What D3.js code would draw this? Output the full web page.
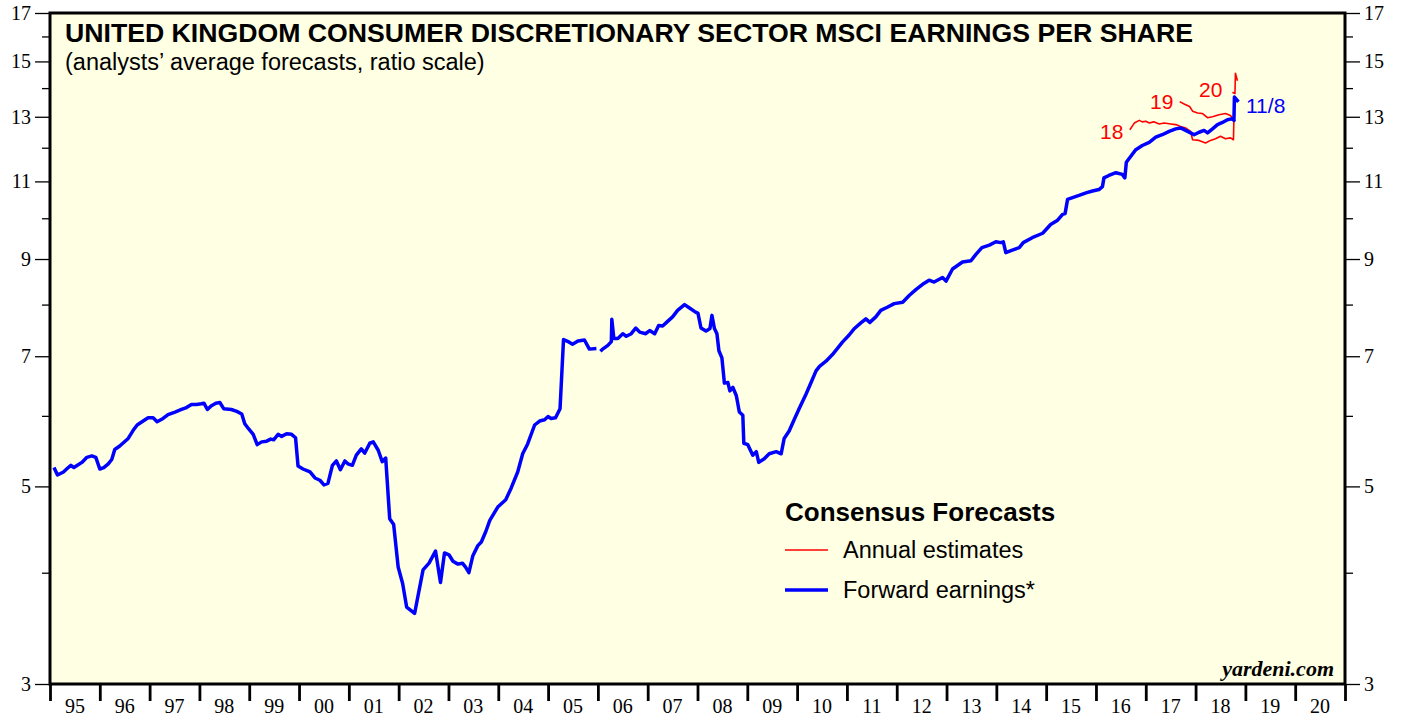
<!DOCTYPE html>
<html>
<head>
<meta charset="utf-8">
<script src="https://cdn.jsdelivr.net/npm/d3@7"></script>
<style>
  body { margin: 0; background: #fff; }
  svg { display: block; }
</style>
</head>
<body>
<svg id="chart" width="1405" height="717"></svg>
<script>
// forward earnings (decimal year, EPS), null = gap in series
const fwdDates = [1995.08,1995.15,1995.27,1995.35,1995.42,1995.48,1995.55,1995.64,1995.74,1995.84,1995.92,
  1996.00,1996.08,1996.17,1996.24,1996.30,1996.40,1996.57,1996.67,1996.75,1996.87,1996.97,
  1997.07,1997.15,1997.27,1997.37,1997.51,1997.64,1997.74,1997.84,1997.94,
  1998.04,1998.09,1998.16,1998.24,1998.33,1998.41,1998.49,1998.64,1998.75,1998.85,1998.91,1998.99,
  1999.08,1999.16,1999.25,1999.35,1999.43,1999.49,1999.58,1999.65,1999.75,1999.85,1999.93,1999.98,
  2000.08,2000.22,2000.32,2000.42,2000.50,2000.58,2000.67,2000.75,2000.83,2000.92,2000.98,
  2001.07,2001.15,2001.25,2001.32,2001.42,2001.49,2001.59,2001.67,2001.74,2001.82,2001.90,2001.99,
  2002.08,2002.16,2002.32,2002.49,2002.61,2002.74,2002.84,2002.92,
  2003.01,2003.09,2003.19,2003.28,2003.34,2003.41,2003.49,2003.59,2003.66,2003.75,2003.83,2003.99,
  2004.15,2004.26,2004.39,2004.49,2004.59,2004.73,2004.83,2004.93,
  2005.00,2005.06,2005.15,2005.24,2005.31,2005.40,2005.49,2005.60,2005.73,2005.83,2005.97,2006.01,
  2006.05,2006.11,2006.20,2006.27,2006.28,2006.32,2006.40,2006.50,2006.57,2006.67,2006.76,2006.84,2006.96,
  2007.04,2007.14,2007.22,2007.30,2007.40,2007.50,2007.60,2007.74,2007.84,2007.94,
  2008.01,2008.07,2008.17,2008.25,2008.29,2008.34,2008.39,2008.43,2008.49,2008.54,2008.61,2008.65,2008.71,2008.78,2008.84,2008.91,2008.93,
  2009.01,2009.11,2009.18,2009.23,2009.34,2009.44,2009.58,2009.68,2009.74,2009.84,2009.94,
  2010.04,2010.18,2010.28,2010.38,2010.45,2010.58,2010.71,2010.91,
  2011.04,2011.14,2011.28,2011.38,2011.46,2011.58,2011.68,2011.82,2011.95,
  2012.12,2012.25,2012.39,2012.52,2012.65,2012.75,2012.92,2012.99,
  2013.12,2013.32,2013.49,2013.59,2013.71,2013.86,2013.99,
  2014.09,2014.14,2014.19,2014.32,2014.46,2014.54,2014.72,2014.93,
  2015.09,2015.23,2015.33,2015.38,2015.43,2015.53,2015.66,2015.80,2015.93,
  2016.06,2016.13,2016.16,2016.26,2016.40,2016.53,2016.58,2016.61,2016.70,2016.80,2016.93,
  2017.07,2017.20,2017.33,2017.47,2017.60,2017.70,2017.80,2017.90,2017.97,
  2018.07,2018.17,2018.24,2018.34,2018.44,2018.54,2018.64,2018.72,2018.77,2018.78,2018.86];
const fwdValues = [5.25,5.15,5.19,5.24,5.28,5.25,5.28,5.32,5.39,5.41,5.39,
  5.23,5.25,5.30,5.36,5.50,5.55,5.66,5.78,5.86,5.92,5.97,
  5.97,5.91,5.96,6.02,6.06,6.10,6.13,6.18,6.18,
  6.19,6.20,6.10,6.16,6.20,6.21,6.11,6.10,6.07,6.03,5.88,5.80,
  5.72,5.57,5.61,5.62,5.65,5.64,5.72,5.69,5.73,5.72,5.67,5.27,
  5.23,5.19,5.11,5.08,5.02,5.04,5.28,5.34,5.22,5.34,5.30,
  5.28,5.42,5.51,5.45,5.59,5.61,5.49,5.33,5.38,4.60,4.53,4.06,
  3.89,3.66,3.60,4.03,4.10,4.23,3.90,4.21,
  4.19,4.12,4.09,4.10,4.06,4.00,4.18,4.29,4.33,4.45,4.58,4.74,
  4.83,4.98,5.19,5.44,5.58,5.86,5.92,5.94,
  5.99,5.96,5.97,6.11,7.31,7.27,7.22,7.28,7.30,7.13,7.14,null,
  7.09,7.14,7.20,7.27,7.70,7.33,7.33,7.42,7.37,7.42,7.53,7.45,7.42,
  7.48,7.42,7.58,7.57,7.66,7.75,7.88,8.00,7.93,7.86,
  7.82,7.53,7.47,7.52,7.78,7.52,7.42,7.10,6.97,6.53,6.54,6.40,6.46,6.32,6.06,6.01,5.59,
  5.57,5.42,5.47,5.32,5.37,5.44,5.47,5.44,5.66,5.77,5.94,
  6.11,6.35,6.54,6.74,6.82,6.91,7.03,7.26,
  7.39,7.51,7.63,7.71,7.64,7.75,7.88,7.95,8.02,
  8.05,8.19,8.32,8.43,8.52,8.48,8.58,8.50,
  8.77,8.93,8.96,9.11,9.27,9.33,9.41,
  9.39,9.41,9.15,9.21,9.27,9.39,9.51,9.62,
  9.84,9.95,10.10,10.12,10.50,10.55,10.61,10.68,10.73,
  10.77,10.85,11.10,11.17,11.25,11.20,11.10,11.56,11.74,11.94,12.07,
  12.17,12.33,12.41,12.52,12.60,12.63,12.55,12.47,12.41,
  12.49,12.55,12.47,12.60,12.74,12.81,12.90,12.93,12.88,13.68,13.51];

// annual consensus estimates
const est18Dates = [2016.68,2016.77,2016.87,2016.93,2017.00,2017.07,2017.16,2017.27,2017.37,2017.50,2017.60,2017.70,2017.80,2017.90,2017.94,
  2018.07,2018.20,2018.30,2018.40,2018.50,2018.60,2018.70,2018.76,2018.77];
const est18Values = [12.57,12.79,12.88,12.83,12.85,12.79,12.83,12.76,12.79,12.76,12.74,12.68,12.63,12.52,12.25,
  12.23,12.15,12.23,12.28,12.36,12.28,12.31,12.25,12.95];
const est19Dates = [2017.68,2017.78,2017.88,2017.94,2018.04,2018.14,2018.24,2018.34,2018.47,2018.60,2018.70,2018.77,2018.80];
const est19Values = [13.52,13.43,13.35,13.19,13.13,13.11,12.97,13.00,13.07,13.11,13.04,12.90,12.85];
const est20Dates = [2018.74,2018.79,2018.80,2018.84];
const est20Values = [13.85,13.80,14.55,14.27];

const yMajor = [3, 5, 7, 9, 11, 13, 15, 17];
const yMinor = [4, 6, 8, 10, 12, 14, 16];
const yearLabels = ['95','96','97','98','99','00','01','02','03','04','05','06','07','08','09','10','11','12','13','14','15','16','17','18','19','20'];

const svg = d3.select('#chart');
const plotLeft = 50, plotRight = 1345, plotTop = 13, plotBottom = 684;

const x = d3.scaleLinear().domain([1995, 2021]).range([plotLeft, plotRight]);
const y = d3.scaleLog().domain([3, 17]).range([plotBottom, plotTop]);

svg.append('rect')
  .attr('x', plotLeft).attr('y', plotTop)
  .attr('width', plotRight - plotLeft).attr('height', plotBottom - plotTop)
  .attr('fill', '#ffffe3');

// y axes, both sides
const serif = '"Liberation Serif", "Times New Roman", serif';
function yAxes(g, side) {
  const major = side === 'left' ? d3.axisLeft(y) : d3.axisRight(y);
  const minor = side === 'left' ? d3.axisLeft(y) : d3.axisRight(y);
  g.append('g').call(major.tickValues(yMajor).tickSize(15).tickPadding(4).tickFormat(d3.format('d')));
  g.append('g').call(minor.tickValues(yMinor).tickSize(8).tickFormat(''));
  g.selectAll('.domain').remove();
  g.selectAll('line').attr('stroke', '#000').attr('stroke-width', 1.3);
  g.selectAll('text').attr('font-family', serif).attr('font-size', 20).attr('fill', '#000');
}
yAxes(svg.append('g').attr('transform', `translate(${plotLeft},0)`), 'left');
yAxes(svg.append('g').attr('transform', `translate(${plotRight},0)`), 'right');

// x axis: year boundary ticks, labels centred in each year
const xg = svg.append('g').attr('transform', `translate(0,${plotBottom})`);
xg.call(d3.axisBottom(x).tickValues(d3.range(1995, 2022)).tickSize(17).tickFormat(''));
xg.select('.domain').remove();
xg.selectAll('line').attr('stroke', '#000').attr('stroke-width', 2.8);
xg.selectAll('.lbl')
  .data(yearLabels)
  .enter()
  .append('text')
  .attr('class', 'lbl')
  .attr('x', (d, i) => x(1995.5 + i))
  .attr('y', 29)
  .attr('text-anchor', 'middle')
  .attr('font-family', serif)
  .attr('font-size', 20)
  .attr('fill', '#000')
  .text(d => d);

// series
const line = d3.line()
  .defined(d => d[1] != null)
  .x(d => x(d[0]))
  .y(d => y(d[1]));

function draw(dates, values, color, width) {
  svg.append('path')
    .datum(d3.zip(dates, values))
    .attr('d', line)
    .attr('fill', 'none')
    .attr('stroke', color)
    .attr('stroke-width', width)
    .attr('stroke-linejoin', 'round');
}
draw(est18Dates, est18Values, '#ff0000', 1.6);
draw(est19Dates, est19Values, '#ff0000', 1.6);
draw(est20Dates, est20Values, '#ff0000', 1.6);
draw(fwdDates, fwdValues, '#0000ff', 3.5);

// frame
svg.append('rect')
  .attr('x', plotLeft).attr('y', plotTop)
  .attr('width', plotRight - plotLeft).attr('height', plotBottom - plotTop)
  .attr('fill', 'none').attr('stroke', '#000').attr('stroke-width', 3);

const sans = '"Liberation Sans", Arial, Helvetica, sans-serif';
svg.append('text')
  .attr('x', 65).attr('y', 42)
  .attr('font-family', sans).attr('font-weight', 'bold').attr('font-size', 26)
  .attr('textLength', 1128).attr('lengthAdjust', 'spacingAndGlyphs')
  .text('UNITED KINGDOM CONSUMER DISCRETIONARY SECTOR MSCI EARNINGS PER SHARE');
svg.append('text')
  .attr('x', 65).attr('y', 70)
  .attr('font-family', sans).attr('font-size', 23.5)
  .text('(analysts’ average forecasts, ratio scale)');

// end labels
const lab = (t, px, py, c) => svg.append('text')
  .attr('x', px).attr('y', py)
  .attr('font-family', sans).attr('font-size', 21).attr('fill', c).text(t);
lab('18', 1100, 139, '#ff0000');
lab('19', 1150, 109, '#ff0000');
lab('20', 1199, 97, '#ff0000');
lab('11/8', 1246, 113, '#0000ff');

// legend
svg.append('text')
  .attr('x', 785).attr('y', 521)
  .attr('font-family', sans).attr('font-weight', 'bold').attr('font-size', 26)
  .text('Consensus Forecasts');
const legend = [
  { name: 'Annual estimates', color: '#ff0000', w: 1.6 },
  { name: 'Forward earnings*', color: '#0000ff', w: 3.5 }
];
legend.forEach((d, i) => {
  const ly = 550 + i * 40;
  svg.append('line')
    .attr('x1', 785).attr('x2', 828).attr('y1', ly).attr('y2', ly)
    .attr('stroke', d.color).attr('stroke-width', d.w);
  svg.append('text')
    .attr('x', 843).attr('y', ly + 8)
    .attr('font-family', sans).attr('font-size', 23.5)
    .text(d.name);
});

svg.append('text')
  .attr('x', 1334).attr('y', 676)
  .attr('text-anchor', 'end')
  .attr('font-family', serif).attr('font-weight', 'bold').attr('font-style', 'italic').attr('font-size', 22)
  .text('yardeni.com');
</script>
</body>
</html>
